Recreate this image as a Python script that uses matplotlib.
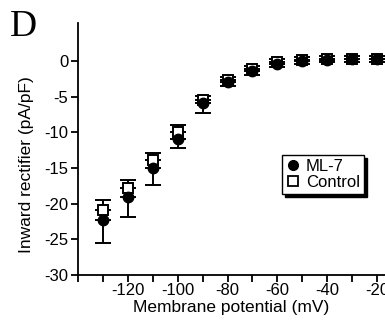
import numpy as np
import matplotlib
matplotlib.use("Agg")
import matplotlib.pyplot as plt
from matplotlib.ticker import MultipleLocator
from matplotlib.lines import Line2D

# membrane potential steps (mV)
voltage = [-130, -120, -110, -100, -90, -80, -70, -60, -50, -40, -30, -20]

# ML-7 treated, mean and SEM (pA/pF)
ml7_mean = [-22.3, -19.1, -15.0, -10.9, -5.9, -3.0, -1.4, -0.4, 0.0, 0.2, 0.3, 0.3]
ml7_sem = [3.2, 2.8, 2.4, 1.3, 1.4, 0.5, 0.5, 0.4, 0.4, 0.4, 0.4, 0.4]

# control, mean and SEM (pA/pF)
ctrl_mean = [-20.9, -17.8, -13.9, -10.0, -5.4, -2.6, -1.1, -0.1, 0.1, 0.3, 0.3, 0.3]
ctrl_sem = [1.4, 1.1, 1.0, 1.0, 0.5, 0.4, 0.4, 0.4, 0.4, 0.4, 0.4, 0.4]

plt.rcParams['font.family'] = ['Liberation Sans', 'DejaVu Sans']
plt.rcParams['axes.unicode_minus'] = False

fig = plt.figure(figsize=(3.85, 3.22), dpi=100)
ax = fig.add_axes([0.2026, 0.146, 0.7974, 0.7824])

zeros = np.zeros(len(voltage))
# control: upward error bars only
ax.errorbar(voltage, ctrl_mean, yerr=[zeros, ctrl_sem], fmt='s', color='black',
            mfc='white', mec='black', ms=7, mew=1.4, elinewidth=1.4,
            capsize=6, capthick=1.4, zorder=3)
# ML-7: downward error bars only
ax.errorbar(voltage, ml7_mean, yerr=[ml7_sem, zeros], fmt='o', color='black',
            ms=7.5, elinewidth=1.4, capsize=6, capthick=1.4, zorder=4)

ax.set_xlim(-140, -16.8)
ax.set_ylim(-30, 5.33)
ax.xaxis.set_minor_locator(MultipleLocator(10))
ax.set_xticks([-120, -100, -80, -60, -40, -20])
ax.set_yticks([-30, -25, -20, -15, -10, -5, 0])
ax.tick_params(which='both', direction='out', length=5, width=1.3, labelsize=12)
ax.tick_params(axis='x', pad=1)
ax.tick_params(axis='y', pad=2)

for s in ['top', 'right']:
    ax.spines[s].set_visible(False)
for s in ['left', 'bottom']:
    ax.spines[s].set_linewidth(1.3)

ax.set_xlabel('Membrane potential (mV)', fontsize=12.5)
ax.set_ylabel('Inward rectifier (pA/pF)', fontsize=12.5)
ax.xaxis.set_label_coords(0.5, -0.1)
ax.yaxis.set_label_coords(-0.142, 0.437)

handles = [Line2D([], [], ls='none', marker='o', color='black', ms=7),
           Line2D([], [], ls='none', marker='s', mfc='white', mec='black', ms=7, mew=1.3)]
leg = ax.legend(handles, ['ML-7', 'Control'], loc='upper left',
                bbox_to_anchor=(0.664, 0.476), fontsize=12, frameon=True,
                fancybox=False, edgecolor='black', handlelength=0.8,
                handletextpad=0.4, borderpad=0.25, labelspacing=0.05,
                borderaxespad=0, shadow={'color': 'black', 'alpha': 1}, framealpha=1)
leg.get_frame().set_linewidth(1.0)

fig.text(0.025, 0.97, 'D', fontsize=27, family='Liberation Serif', va='top', ha='left')

fig.savefig('out.png', dpi=100)
